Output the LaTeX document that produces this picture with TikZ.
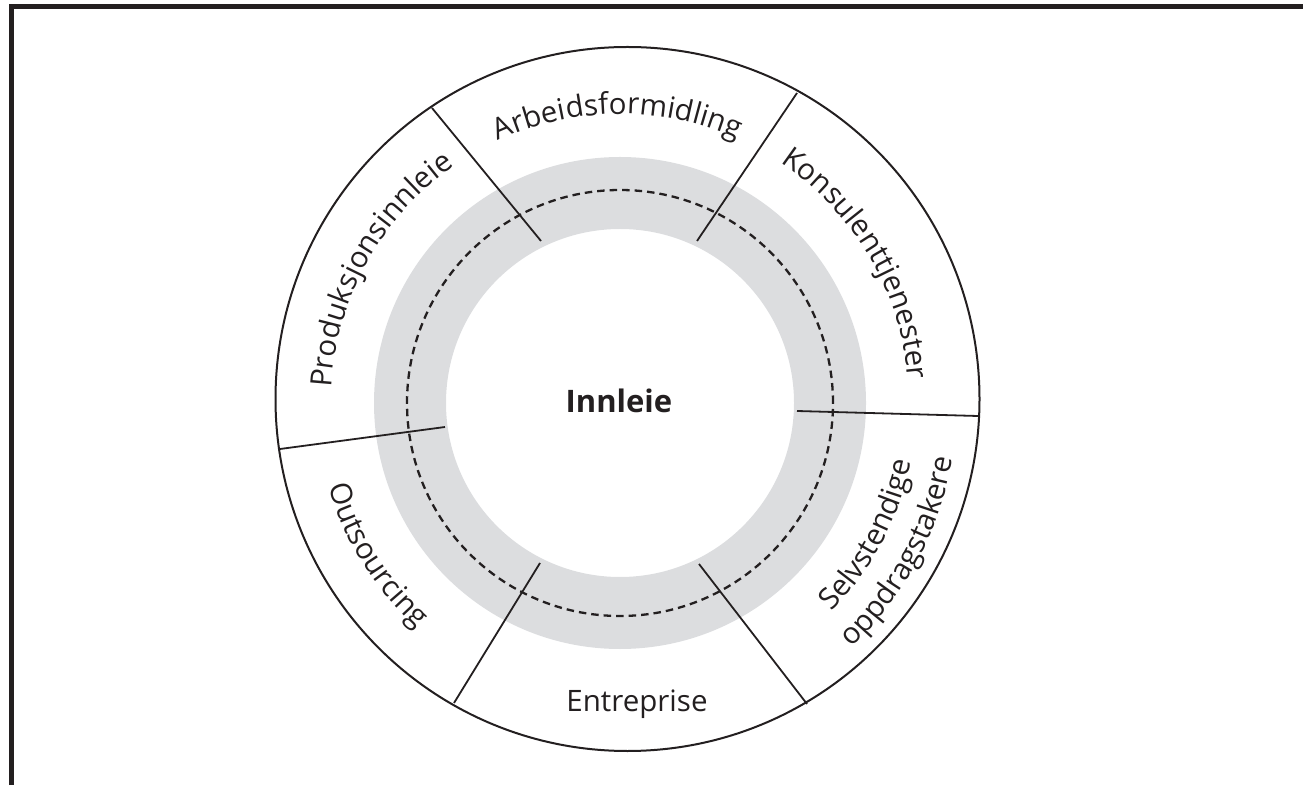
\documentclass[tikz,border=0pt]{standalone}
\usepackage{fontspec}
\setmainfont{Open Sans}
\usetikzlibrary{decorations.text}
\definecolor{ink}{RGB}{35,31,32}
\definecolor{ringgray}{RGB}{220,221,223}
\newcommand{\labfont}{\fontsize{29.5}{35}\selectfont}
\begin{document}
\begin{tikzpicture}[x=1pt,y=1pt,
  frameline/.style={line width=5pt, draw=ink},
  divider/.style={line width=1.8pt, draw=ink},
  rim/.style={line width=2pt, draw=ink},
  dashring/.style={line width=2.3pt, draw=ink, dash pattern=on 7.5pt off 5pt},
  plainlabel/.style={font=\labfont, text=ink, anchor=base, inner sep=0pt},
  arclabel/.style={decorate, decoration={text along path, text align=center, text color=ink}},
]
\useasboundingbox (0,0) rectangle (1303,785);
\coordinate (oc) at (627.5,386);
\coordinate (rc) at (620,382);
% frame
\draw[frameline] (11,0) -- (11,778) -- (1303,778);
% grey ring
\fill[ringgray, even odd rule] (rc) circle[radius=246] (rc) circle[radius=174];
\draw[dashring] (rc) circle[radius=213];
% outer circle
\draw[rim] (oc) circle[radius=352];
% dividers
\coordinate (d1o) at (432,677); \coordinate (d1i) at (541,544);
\coordinate (d2o) at (797,692); \coordinate (d2i) at (697,544);
\coordinate (d3o) at (978,369); \coordinate (d3i) at (797,374);
\coordinate (d4o) at (280,336); \coordinate (d4i) at (445,358);
\coordinate (d5o) at (454,82);  \coordinate (d5i) at (540,222);
\coordinate (d6o) at (807,81);  \coordinate (d6i) at (699,221);
\foreach \k in {1,...,6} \draw[divider] (d\k o) -- (d\k i);
% centre
\node[plainlabel, font=\fontsize{31}{36}\selectfont\bfseries] (innleie) at (619,372) {Innleie};
\node[plainlabel] (entreprise) at (637,74) {Entreprise};
% curved labels
\begin{scope}[shift={(rc)}]
\path[arclabel, decoration={text={|\labfont|Arbeidsformidling}}] (150.5:289) arc[start angle=150.5, end angle=30.5, radius=289];
\path[arclabel, decoration={text={|\labfont|Konsulenttjenester}}] (90.5:289) arc[start angle=90.5, end angle=-29.5, radius=289];
\path[arclabel, decoration={text={|\labfont|Produksjonsinnleie}}] (211:289) arc[start angle=211, end angle=91, radius=289];
\path[arclabel, decoration={text={|\labfont|Outsourcing}}] (152:303) arc[start angle=152, end angle=272, radius=303];
\path[arclabel, decoration={text={|\labfont|Selvstendige}}] (-88:297) arc[start angle=-88, end angle=32, radius=297];
\path[arclabel, decoration={text={|\labfont|oppdragstakere}}] (-88:337) arc[start angle=-88, end angle=32, radius=337];
\end{scope}
\end{tikzpicture}
\end{document}
